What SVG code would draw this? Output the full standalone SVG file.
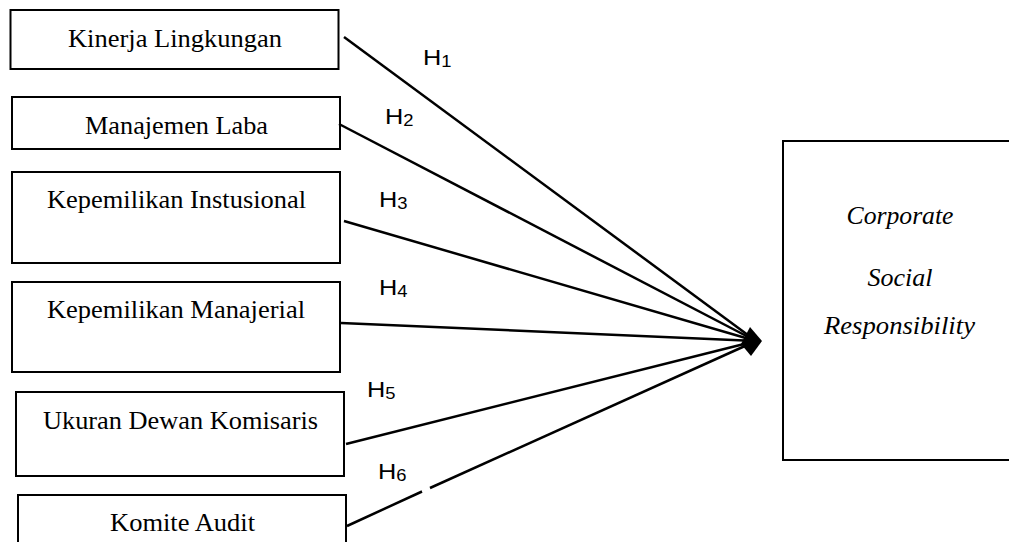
<svg xmlns="http://www.w3.org/2000/svg" width="1009" height="542" viewBox="0 0 1009 542">
<style>
.box{fill:#fff;stroke:#000;stroke-width:2}
.lbl{font-family:"Liberation Serif","Times New Roman",serif;font-size:25.5px;fill:#000;text-anchor:middle}
.it{font-style:italic}
.h{font-family:"Liberation Sans",Arial,sans-serif;font-size:22px;fill:#000}
.sub{font-size:16px}
.ln{stroke:#000;stroke-width:2.5;fill:none}
</style>
<rect width="1009" height="542" fill="#fff"/>
<g id="n1"><rect class="box" x="10.5" y="10" width="328" height="59"/><text class="lbl" x="175" y="47" textLength="214" lengthAdjust="spacingAndGlyphs">Kinerja Lingkungan</text></g>
<g id="n2"><rect class="box" x="12" y="97" width="328" height="52"/><text class="lbl" x="176.5" y="133.5" textLength="183" lengthAdjust="spacingAndGlyphs">Manajemen Laba</text></g>
<g id="n3"><rect class="box" x="12" y="172" width="328" height="91"/><text class="lbl" x="176.5" y="207.5" textLength="259" lengthAdjust="spacingAndGlyphs">Kepemilikan Instusional</text></g>
<g id="n4"><rect class="box" x="12" y="282" width="328" height="90"/><text class="lbl" x="176" y="317.5" textLength="258" lengthAdjust="spacingAndGlyphs">Kepemilikan Manajerial</text></g>
<g id="n5"><rect class="box" x="16" y="392" width="328" height="84"/><text class="lbl" x="180.5" y="428.5" textLength="275" lengthAdjust="spacingAndGlyphs">Ukuran Dewan Komisaris</text></g>
<g id="n6"><rect class="box" x="18" y="495" width="328" height="60"/><text class="lbl" x="182.5" y="530.5" textLength="145" lengthAdjust="spacingAndGlyphs">Komite Audit</text></g>
<g id="csr"><rect class="box" x="783" y="141" width="240" height="319"/>
<text class="lbl it" x="900" y="224" textLength="107" lengthAdjust="spacingAndGlyphs">Corporate</text>
<text class="lbl it" x="900" y="286" textLength="65" lengthAdjust="spacingAndGlyphs">Social</text>
<text class="lbl it" x="899.5" y="334" textLength="151" lengthAdjust="spacingAndGlyphs">Responsibility</text></g>
<g id="connectors">
<line class="ln" x1="344" y1="37" x2="756" y2="341"/>
<line class="ln" x1="339" y1="124" x2="756" y2="341"/>
<line class="ln" x1="344" y1="221" x2="756" y2="341"/>
<line class="ln" x1="341" y1="323" x2="756" y2="341"/>
<line class="ln" x1="346" y1="444" x2="756" y2="341"/>
<line class="ln" x1="347" y1="526" x2="422" y2="491.5"/>
<line class="ln" x1="430" y1="488" x2="756" y2="341"/>
<polygon points="762,341 750,327 741,344 751,356" fill="#000"/>
</g>
<g id="labels">
<text class="h" transform="translate(423,65) scale(1.15,1)">H<tspan class="sub" dy="2">1</tspan></text>
<text class="h" transform="translate(385,124) scale(1.15,1)">H<tspan class="sub" dy="2">2</tspan></text>
<text class="h" transform="translate(379,207) scale(1.15,1)">H<tspan class="sub" dy="2">3</tspan></text>
<text class="h" transform="translate(379,295) scale(1.15,1)">H<tspan class="sub" dy="2">4</tspan></text>
<text class="h" transform="translate(367,397) scale(1.15,1)">H<tspan class="sub" dy="2">5</tspan></text>
<text class="h" transform="translate(378,479) scale(1.15,1)">H<tspan class="sub" dy="2">6</tspan></text>
</g>
</svg>
